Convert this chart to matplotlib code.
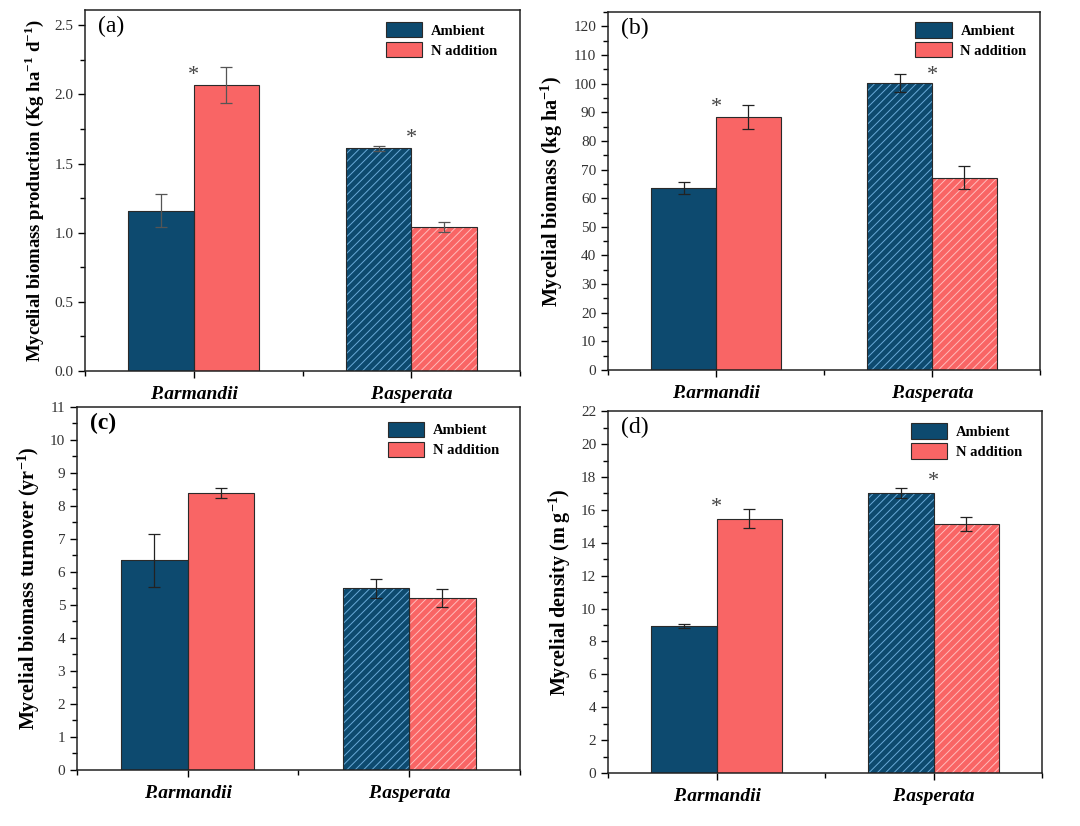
import matplotlib
matplotlib.use('Agg')
import matplotlib.pyplot as plt
import numpy as np
from matplotlib.patches import Patch
from matplotlib.ticker import MultipleLocator, FixedLocator

# data
categories = ['P.armandii', 'P.asperata']
series = ['Ambient', 'N addition']

prod_amb = [1.16, 1.61]
prod_amb_err = [0.12, 0.02]
prod_n = [2.07, 1.04]
prod_n_err = [0.13, 0.035]

bio_amb = [63.5, 100.2]
bio_amb_err = [2.2, 3.2]
bio_n = [88.3, 67.2]
bio_n_err = [4.2, 4.0]

turn_amb = [6.35, 5.5]
turn_amb_err = [0.8, 0.3]
turn_n = [8.4, 5.22]
turn_n_err = [0.15, 0.27]

dens_amb = [8.95, 17.0]
dens_amb_err = [0.12, 0.3]
dens_n = [15.45, 15.12]
dens_n_err = [0.58, 0.42]

# significance stars (category index, y position)
prod_stars = [(0, 2.14), (1, 1.68)]
bio_stars = [(0, 91.7), (1, 103.0)]
turn_stars = []
dens_stars = [(0, 16.15), (1, 17.7)]

plt.rcParams['font.family'] = ['Liberation Serif', 'DejaVu Serif']
plt.rcParams['mathtext.fontset'] = 'custom'
plt.rcParams['mathtext.rm'] = 'Liberation Serif'
plt.rcParams['mathtext.bf'] = 'Liberation Serif:bold'
plt.rcParams['hatch.linewidth'] = 0.7

c_amb = '#0d4a6f'
c_n = '#f96565'
h_amb = '#6aaad8'
h_n = '#ffbcbc'
edge = '#2a2a2a'

fig = plt.figure(figsize=(10.8, 8.26), dpi=100)

panels = [
    dict(rect=[0.0787, 0.5508, 0.4028, 0.437], amb=prod_amb, amb_err=prod_amb_err,
         n=prod_n, n_err=prod_n_err, stars=prod_stars, ylim=(0, 2.61), major=0.5, minor=0.25,
         fmt='{:.1f}', label=r'Mycelial biomass production (Kg ha$^{\mathbf{-1}}$ d$^{\mathbf{-1}}$)',
         tag='(a)', tagbold=False, leg=(0.692, 0.967), errc='#555555', lsize=13.5),
    dict(rect=[0.563, 0.552, 0.40, 0.4334], amb=bio_amb, amb_err=bio_amb_err,
         n=bio_n, n_err=bio_n_err, stars=bio_stars, ylim=(0, 125), major=10, minor=5,
         fmt='{:.0f}', label=r'Mycelial biomass (kg ha$^{\mathbf{-1}}$)',
         tag='(b)', tagbold=False, leg=(0.711, 0.972), errc='#222222', lsize=14.5),
    dict(rect=[0.0713, 0.0678, 0.410, 0.4395], amb=turn_amb, amb_err=turn_amb_err,
         n=turn_n, n_err=turn_n_err, stars=turn_stars, ylim=(0, 11), major=1, minor=0.5,
         fmt='{:.0f}', label=r'Mycelial biomass turnover (yr$^{\mathbf{-1}}$)',
         tag='(c)', tagbold=True, leg=(0.702, 0.959), errc='#222222', lsize=14.5),
    dict(rect=[0.563, 0.0642, 0.4019, 0.438], amb=dens_amb, amb_err=dens_amb_err,
         n=dens_n, n_err=dens_n_err, stars=dens_stars, ylim=(0, 22), major=2, minor=1,
         fmt='{:.0f}', label=r'Mycelial density (m g$^{\mathbf{-1}}$)',
         tag='(d)', tagbold=False, leg=(0.698, 0.967), errc='#222222', lsize=14.5),
]

x = np.arange(1, len(categories) + 1)
w = 0.3

for p in panels:
    ax = fig.add_axes(p['rect'])
    for vals, errs, off, fc, hc in [(p['amb'], p['amb_err'], -w / 2, c_amb, h_amb),
                                    (p['n'], p['n_err'], w / 2, c_n, h_n)]:
        hatches = ['', '////']
        for i in range(len(categories)):
            ax.bar(x[i] + off, vals[i], width=w, color=fc, edgecolor=hc,
                   linewidth=0, hatch=hatches[i], zorder=2)
            ax.bar(x[i] + off, vals[i], width=w, facecolor='none', edgecolor=edge,
                   linewidth=0.8, zorder=2.5)
        ax.errorbar(x + off, vals, yerr=errs, fmt='none', ecolor=p['errc'],
                    elinewidth=0.9, capsize=4, capthick=0.9, zorder=3)
    for ci, sy in p['stars']:
        ax.text(x[ci], sy, '*', ha='center', va='center', fontsize=16,
                color='#444444')

    ax.set_xlim(0.5, 2.5)
    ax.set_ylim(*p['ylim'])
    ax.set_xticks(x)
    ax.set_xticklabels(categories, fontsize=14, fontweight='bold', fontstyle='italic')
    ax.xaxis.set_minor_locator(FixedLocator([0.5, 1.5, 2.5]))
    ax.yaxis.set_major_locator(MultipleLocator(p['major']))
    ax.yaxis.set_minor_locator(MultipleLocator(p['minor']))
    ticks = np.arange(0, p['ylim'][1] + 1e-9, p['major'])
    ax.set_yticks(ticks)
    ax.set_yticklabels([p['fmt'].format(t) for t in ticks], fontsize=11, color='#333333')
    ax.tick_params(axis='both', which='major', direction='out', length=5, width=1)
    ax.tick_params(axis='both', which='minor', direction='out', length=3.5, width=1)
    ax.tick_params(axis='x', pad=6)
    for s in ax.spines.values():
        s.set_linewidth(1.1)
        s.set_color('#222222')
    ax.set_ylabel(p['label'], fontsize=p['lsize'], fontweight='bold', labelpad=6)
    ax.text(0.03, 0.955, p['tag'], transform=ax.transAxes, fontsize=17,
            fontweight='bold' if p['tagbold'] else 'normal', va='center', ha='left')

    handles = [Patch(facecolor=c_amb, edgecolor=edge, linewidth=0.8),
               Patch(facecolor=c_n, edgecolor=edge, linewidth=0.8)]
    ax.legend(handles, series, loc='upper left', bbox_to_anchor=p['leg'],
              frameon=False, borderpad=0, borderaxespad=0, handlelength=2.5,
              handleheight=1.25, handletextpad=0.6, labelspacing=0.3,
              prop={'weight': 'bold', 'size': 10.5})

fig.savefig('out.png', dpi=100)
